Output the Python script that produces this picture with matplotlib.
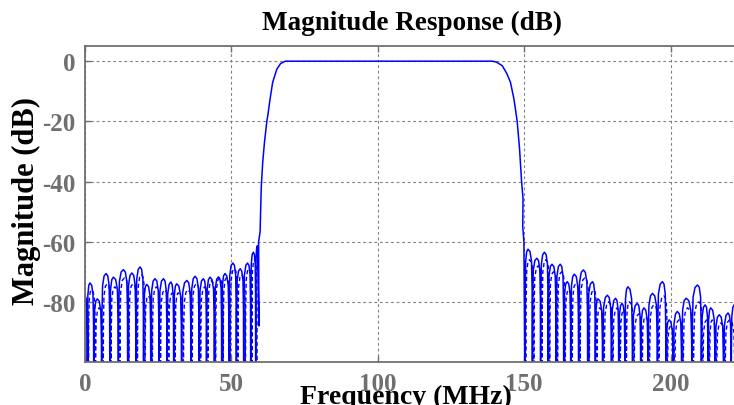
import matplotlib
matplotlib.use('Agg')
import matplotlib.pyplot as plt
import numpy as np

# stopband floor used for the null points (drawn below the axis)
NULL_DB = -120.0

# quantized response, lower stopband lobes (MHz, dB)
lo_peak_f = [0.0, 1.7, 4.2, 7.2, 9.7, 13.1, 16.0, 18.8, 21.1, 23.9, 26.8, 29.3,
             31.3, 34.8, 37.6, 40.4, 42.7, 45.6, 47.8, 50.5, 53.0, 55.5, 57.5, 58.9]
lo_peak_db = [-78.0, -73.7, -79.0, -70.6, -71.8, -69.3, -70.4, -68.4, -74.2, -72.3, -72.3, -73.4,
              -74.0, -72.9, -71.5, -72.3, -71.8, -71.7, -70.6, -67.1, -69.0, -67.1, -63.5, -61.3]
lo_null_f = [0.8, 3.0, 5.7, 8.5, 11.4, 14.6, 17.4, 20.0, 22.5, 25.3, 28.0, 30.3,
             33.0, 36.2, 39.0, 41.5, 44.2, 46.7, 49.2, 51.7, 54.2, 56.6, 58.3]

# transition bands and passband
edge_lo_f = [59.4, 59.3, 59.8, 60.2, 60.7, 61.3, 62.1, 62.5, 63.2, 64.1, 65.5, 66.8, 68.4]
edge_lo_db = [-88.0, -60.0, -56.7, -41.8, -33.5, -26.9, -20.0, -17.6, -12.6, -7.0, -2.7, -0.8, 0.0]
pass_f = [100.0, 139.1]
pass_db = [0.0, 0.0]
edge_hi_f = [140.5, 142.5, 144.0, 145.3, 146.5, 147.6, 148.4, 149.1, 149.6, 149.5, 149.9]
edge_hi_db = [-0.3, -1.5, -4.0, -7.0, -12.6, -20.0, -29.0, -40.0, -45.7, -55.0, -60.0]

# quantized response, upper stopband lobes
hi_peak_f = [151.3, 154.3, 156.9, 159.5, 162.3, 164.7, 167.1, 170.2, 173.3, 175.2, 178.4, 181.2,
             183.4, 185.4, 188.6, 190.9, 193.8, 197.2, 199.5, 202.3, 205.3, 209.2, 211.8, 213.7,
             216.6, 219.6, 221.7]
hi_peak_db = [-62.5, -65.5, -63.5, -67.5, -67.5, -73.3, -70.8, -69.4, -73.3, -79.0, -77.8, -78.8,
              -80.5, -75.0, -80.5, -82.0, -77.2, -73.3, -86.0, -83.2, -78.8, -74.4, -81.0, -82.0,
              -84.3, -83.7, -81.0]
hi_null_f = [150.3, 152.8, 155.6, 158.2, 160.9, 163.5, 165.9, 168.6, 171.7, 174.3, 176.8, 179.8,
             182.3, 184.4, 187.0, 189.8, 192.3, 195.5, 198.4, 200.9, 203.8, 207.3, 210.5, 212.8,
             215.2, 218.1, 220.7]

# reference response (dashed), stopbands only
ref_lo_peak_f = [0.3, 2.2, 4.8, 7.6, 10.2, 13.5, 16.4, 19.3, 21.6, 24.4, 27.2, 29.8,
                 31.8, 35.2, 38.0, 40.9, 43.2, 46.0, 48.3, 51.0, 53.5, 56.0, 57.9]
ref_lo_peak_db = [-80.0, -76.0, -82.0, -74.0, -75.0, -72.0, -74.0, -71.0, -78.0, -75.0, -76.0, -77.0,
                  -77.0, -76.0, -74.0, -75.0, -73.0, -72.0, -72.0, -69.0, -71.0, -69.0, -66.0]
ref_lo_null_f = [1.2, 3.6, 6.2, 8.9, 11.9, 15.0, 17.9, 20.5, 23.0, 25.8, 28.6, 30.8,
                 33.6, 36.6, 39.5, 42.0, 44.6, 47.2, 49.6, 52.2, 54.8, 57.0, 58.8]

ref_hi_peak_f = [151.8, 154.8, 157.4, 160.0, 162.8, 165.2, 167.6, 170.7, 173.8, 175.8, 178.9, 181.7,
                 183.9, 185.9, 189.1, 191.4, 194.3, 197.7, 200.0, 202.8, 205.8, 209.7, 212.3, 214.2,
                 217.1, 220.1]
ref_hi_peak_db = [-66.0, -68.0, -66.0, -70.0, -70.0, -76.0, -74.0, -72.0, -76.0, -82.0, -80.0, -82.0,
                  -83.0, -80.0, -84.0, -85.0, -81.0, -78.0, -88.0, -86.0, -82.0, -80.0, -86.0, -86.0,
                  -87.0, -86.0]
ref_hi_null_f = [150.6, 153.3, 156.1, 158.7, 161.4, 164.0, 166.4, 169.1, 172.2, 174.8, 177.3, 180.3,
                 182.8, 184.9, 187.5, 190.3, 192.8, 196.0, 198.9, 201.4, 204.3, 207.8, 211.0, 213.3,
                 215.7, 218.6, 222.0]

x_ticks = [0, 50, 100, 150, 200]
y_ticks = [0, -20, -40, -60, -80]

GRAY = '#6f6f6f'
SERIF = ['Liberation Serif', 'DejaVu Serif']

# drawing profile of one lobe side (fraction of the null->peak span, dB below peak)
SIDE_FRAC = [0.06, 0.2, 0.55]
SIDE_DROP = [14.0, 4.0, 0.8]


def lobes(peak_f, peak_db, null_f):
    """Draw lobes as rounded domes between nulls, ordered by frequency."""
    peaks = sorted(zip(peak_f, peak_db))
    nulls = sorted(null_f)
    xs, ys = [], []
    for pf, pdb in peaks:
        left = [n for n in nulls if n < pf]
        right = [n for n in nulls if n > pf]
        if left:
            a = left[-1]
            for fr, dr in zip(SIDE_FRAC, SIDE_DROP):
                xs.append(a + fr * (pf - a))
                ys.append(pdb - dr)
        xs.append(pf)
        ys.append(pdb)
        if right:
            b = right[0]
            for fr, dr in zip(reversed(SIDE_FRAC), reversed(SIDE_DROP)):
                xs.append(b - fr * (b - pf))
                ys.append(pdb - dr)
    xs.extend(nulls)
    ys.extend([NULL_DB] * len(nulls))
    xs = np.array(xs)
    ys = np.array(ys)
    order = np.argsort(xs, kind='stable')
    return xs[order], ys[order]


def main():
    plt.rcParams['font.family'] = SERIF
    plt.rcParams['font.weight'] = 'bold'

    fig = plt.figure(figsize=(7.34, 4.06), dpi=100)
    fig.patch.set_facecolor('white')
    ax = fig.add_axes([0.1158, 0.1059, 0.8856, 0.778])

    # quantized response (solid)
    lf, ldb = lobes(lo_peak_f, lo_peak_db, lo_null_f)
    hf, hdb = lobes(hi_peak_f, hi_peak_db, hi_null_f)
    f = np.concatenate([lf, edge_lo_f, pass_f, edge_hi_f, hf])
    db = np.concatenate([ldb, edge_lo_db, pass_db, edge_hi_db, hdb])
    ax.plot(f, db, color='#0000ff', linewidth=1.1)

    # reference response (dashed)
    for pf, pdb, nf in [(ref_lo_peak_f, ref_lo_peak_db, ref_lo_null_f),
                        (ref_hi_peak_f, ref_hi_peak_db, ref_hi_null_f)]:
        rf, rdb = lobes(pf, pdb, nf)
        ax.plot(rf, rdb, color='#0000ff', linewidth=1.0, linestyle=(0, (3, 2)))

    ax.set_xlim(0, 222)
    ax.set_ylim(-100, 5)
    ax.set_xticks(x_ticks)
    ax.set_yticks(y_ticks)
    ax.set_xticklabels([str(t) for t in x_ticks])
    ax.set_yticklabels([str(t) for t in y_ticks])

    ax.grid(True, color='#808080', linestyle=(0, (2.5, 2.5)), linewidth=0.8)
    ax.tick_params(direction='in', length=4, width=1, colors=GRAY, labelsize=18,
                   top=True, pad=7)
    for lbl in ax.get_xticklabels() + ax.get_yticklabels():
        lbl.set_fontweight('bold')
        lbl.set_color(GRAY)
    for side in ['left', 'bottom', 'top']:
        ax.spines[side].set_color(GRAY)
        ax.spines[side].set_linewidth(1.3)
    ax.spines['right'].set_visible(False)

    fig.text(0.561, 0.925, 'Magnitude Response (dB)', ha='center', va='baseline',
             fontsize=19.5, fontweight='bold', color='black')
    fig.text(0.553, 0.004, 'Frequency (MHz)', ha='center', va='baseline',
             fontsize=20, fontweight='bold', color='black')
    fig.text(0.036, 0.505, 'Magnitude (dB)', ha='center', va='center', rotation=90,
             fontsize=22, fontweight='bold', color='black')

    fig.savefig('out.png', dpi=100, facecolor='white')
    plt.close(fig)


if __name__ == '__main__':
    main()
